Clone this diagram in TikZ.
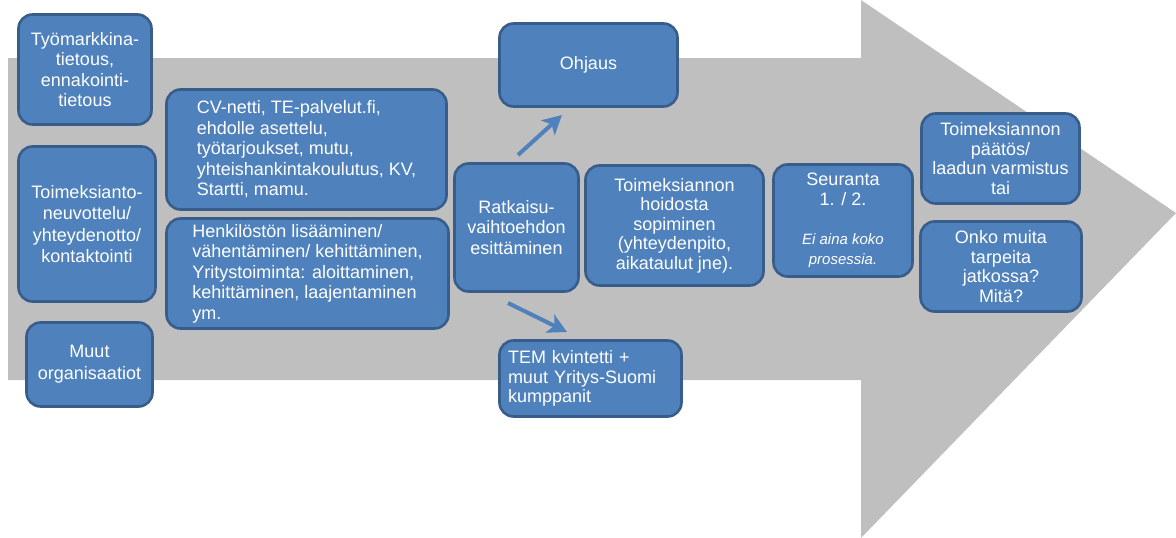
\documentclass[tikz,border=0pt]{standalone}
\usepackage{fontspec}
\setmainfont{Liberation Sans}
\usetikzlibrary{arrows.meta}
\definecolor{boxblue}{HTML}{4F81BD}
\definecolor{boxedge}{HTML}{385D8A}
\definecolor{arrgrey}{HTML}{BFBFBF}
\begin{document}
\begin{tikzpicture}[x=1pt,y=-1pt,
  box/.style={draw=boxedge, fill=boxblue, line width=2.6pt, rounded corners=14pt,
    text=white, font=\fontsize{18}{20.5}\selectfont, inner sep=0pt, align=center},
  conn/.style={draw=boxblue, line width=4pt, -{Stealth[length=19pt,width=20pt,inset=5pt]}}]
\useasboundingbox (0,0) rectangle (1176,538);
% big grey arrow
\fill[arrgrey] (8,58) -- (861,58) -- (861,0) -- (1176,213) -- (861,538) -- (861,380) -- (8,380) -- cycle;

% left column
\node[box, minimum width=133pt, minimum height=110pt] (tyo) at (85,69.5)
  {Työmarkkina-\\tietous,\\ennakointi-\\tietous};
\node[box, minimum width=137pt, minimum height=155pt, font=\fontsize{18}{21.5}\selectfont] (toim) at (87,224)
  {Toimeksianto-\\neuvottelu/\\yhteydenotto/\\kontaktointi};
\node[box, minimum width=126pt, minimum height=84pt, font=\fontsize{18}{22}\selectfont] (muut) at (89.5,364.5)
  {Muut\\organisaatiot};

% second column
\node[box, minimum width=280pt, minimum height=120pt, align=left] (cv) at (306.5,149.5)
  {CV-netti, TE-palvelut.fi,\\ehdolle asettelu,\\työtarjoukset, mutu,\\yhteishankintakoulutus, KV,\\Startti, mamu.};
\node[box, minimum width=282pt, minimum height=110pt, align=left] (henk) at (307.5,273.5)
  {Henkilöstön lisääminen/\\vähentäminen/ kehittäminen,\\Yritystoiminta: aloittaminen,\\kehittäminen, laajentaminen\\ym.};

% middle
\node[box, minimum width=178pt, minimum height=83pt] (ohj) at (588.5,65) {Ohjaus};
\node[box, minimum width=124pt, minimum height=128pt] (ratk) at (516.5,227.5)
  {Ratkaisu-\\vaihtoehdon\\esittäminen};
\node[box, minimum width=182pt, minimum height=76pt, text width=165pt, align=left, font=\fontsize{18}{19.5}\selectfont] (tem) at (590.5,378.5)
  {TEM kvintetti +\\muut Yritys-Suomi\\kumppanit};
\node[box, minimum width=178pt, minimum height=120pt, font=\fontsize{18}{19.5}\selectfont] (hoid) at (674.5,225.5)
  {Toimeksiannon\\hoidosta\\sopiminen\\(yhteydenpito,\\aikataulut jne).};
\node[box, minimum width=139pt, minimum height=112pt] (seur) at (843,220.5)
  {Seuranta\\1. / 2.\\[18pt]\fontsize{15}{20}\selectfont\itshape Ei aina koko\\\fontsize{15}{20}\selectfont\itshape prosessia.};

% right
\node[box, minimum width=158pt, minimum height=90pt, font=\fontsize{18}{19.5}\selectfont] (paat) at (1000.5,158.5)
  {Toimeksiannon\\päätös/\\laadun varmistus\\tai};
\node[box, minimum width=161pt, minimum height=90pt, font=\fontsize{18}{19.5}\selectfont] (onko) at (1001,266.5)
  {Onko muita\\tarpeita\\jatkossa?\\Mitä?};

% connectors
\coordinate (upS) at (518,155);
\coordinate (upE) at (562,115);
\coordinate (dnS) at (508,303);
\coordinate (dnE) at (567,332);
\draw[conn] (upS) -- (upE);
\draw[conn] (dnS) -- (dnE);
\end{tikzpicture}
\end{document}
